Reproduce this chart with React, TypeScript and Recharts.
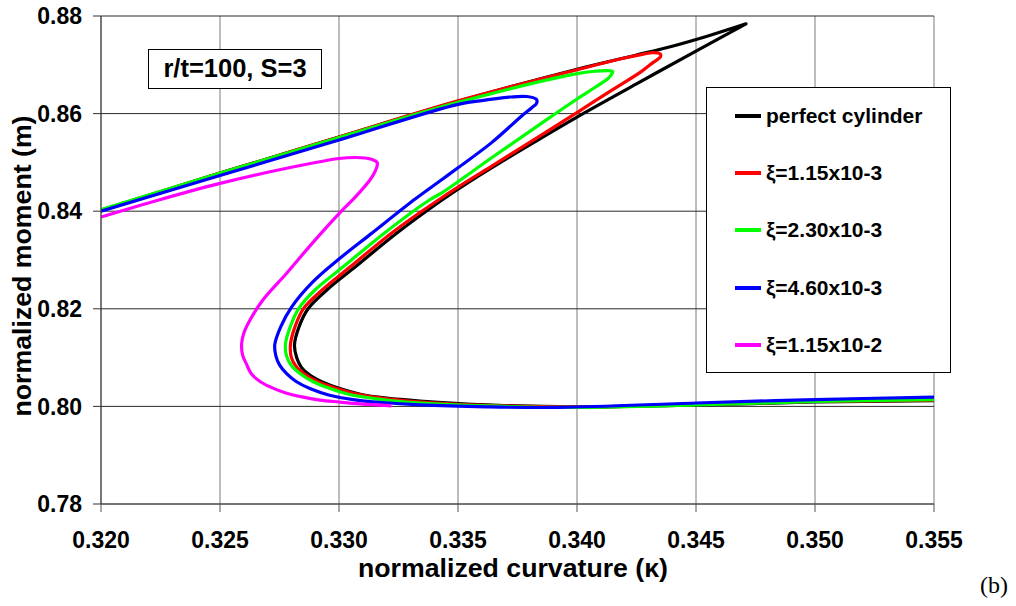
import React from 'react';
import { LineChart, Line, XAxis, YAxis, CartesianGrid, Legend, Customized } from 'recharts';

const FONT = '"Liberation Sans", Arial, sans-serif';

const xTicks = [0.32, 0.325, 0.33, 0.335, 0.34, 0.345, 0.35, 0.355];
const yTicks = [0.78, 0.8, 0.82, 0.84, 0.86, 0.88];

const seriesNames = ['perfect cylinder', 'ξ=1.15x10-3', 'ξ=2.30x10-3', 'ξ=4.60x10-3', 'ξ=1.15x10-2'];
const seriesColors = ['#000000', '#FF0000', '#00FF00', '#0000FF', '#FF00FF'];

// perfect cylinder
const perfectK = [0.3200, 0.3250, 0.3300, 0.3350, 0.3400, 0.3425, 0.3440, 0.3455, 0.3471, 0.3450, 0.3425, 0.3400, 0.3375, 0.3355, 0.3343, 0.33242, 0.3307, 0.3295, 0.3287, 0.32832, 0.32813, 0.32822, 0.32842, 0.3288, 0.3293, 0.3300, 0.3309, 0.3320, 0.3334, 0.3362, 0.3400, 0.3450, 0.3500, 0.3550];
const perfectM = [0.8402, 0.8478, 0.8552, 0.8625, 0.8691, 0.8720, 0.8738, 0.8759, 0.8784, 0.8728, 0.8661, 0.8593, 0.8521, 0.8461, 0.8422, 0.83549, 0.82865, 0.8239, 0.8200, 0.8163, 0.8126, 0.8100, 0.8080, 0.8063, 0.8050, 0.8037, 0.8025, 0.8017, 0.8011, 0.8003, 0.7999, 0.8003, 0.8009, 0.8012];

// xi = 1.15e-3
const xi1K = [0.3200, 0.3250, 0.3300, 0.3350, 0.3400, 0.3420, 0.3428, 0.3432, 0.3435, 0.3435, 0.3432, 0.3427, 0.3413, 0.3400, 0.3385, 0.3364, 0.3343, 0.3322, 0.3305, 0.3293, 0.3285, 0.32815, 0.32796, 0.3280, 0.3282, 0.3286, 0.3291, 0.3298, 0.3307, 0.3318, 0.3332, 0.3362, 0.3400, 0.3450, 0.3500, 0.3550];
const xi1M = [0.8402, 0.8478, 0.8552, 0.8626, 0.8690, 0.8714, 0.8722, 0.8725, 0.8722, 0.8716, 0.8705, 0.8686, 0.8643, 0.8602, 0.8556, 0.8492, 0.8427, 0.8355, 0.8287, 0.8239, 0.8200, 0.8163, 0.8127, 0.8100, 0.8082, 0.8065, 0.8051, 0.8038, 0.8026, 0.8017, 0.8010, 0.8002, 0.7999, 0.8004, 0.8010, 0.8013];

// xi = 2.30e-3
const xi2K = [0.3200, 0.3250, 0.3300, 0.3350, 0.3400, 0.3408, 0.34125, 0.3415, 0.34146, 0.3413, 0.3408, 0.3400, 0.3385, 0.3364, 0.3343, 0.3338, 0.3319, 0.3302, 0.3290, 0.3283, 0.32795, 0.32775, 0.3278, 0.3280, 0.3284, 0.3289, 0.3296, 0.3304, 0.3315, 0.3328, 0.3362, 0.3400, 0.3450, 0.3500, 0.3550];
const xi2M = [0.8403, 0.8478, 0.8551, 0.8623, 0.8682, 0.8687, 0.8688, 0.8686, 0.8681, 0.8672, 0.8655, 0.8630, 0.8580, 0.8509, 0.8437, 0.8423, 0.8355, 0.8287, 0.8239, 0.8200, 0.8163, 0.8127, 0.8103, 0.8084, 0.8066, 0.8051, 0.8037, 0.8025, 0.8016, 0.8009, 0.8001, 0.7998, 0.8003, 0.8010, 0.8014];

// xi = 4.60e-3
const xi3K = [0.3200, 0.3250, 0.3300, 0.3350, 0.3362, 0.3372, 0.3379, 0.3383, 0.3383, 0.3381, 0.3377, 0.3364, 0.3350, 0.3343, 0.3332, 0.3313, 0.3300, 0.3289, 0.3280, 0.32755, 0.3273, 0.32735, 0.3275, 0.3278, 0.3282, 0.3288, 0.3296, 0.3306, 0.3318, 0.3334, 0.3362, 0.3393, 0.3450, 0.3500, 0.3550];
const xi3M = [0.8400, 0.8473, 0.8546, 0.8619, 0.8628, 0.8634, 0.8635, 0.8629, 0.8621, 0.8612, 0.8596, 0.8540, 0.8489, 0.8464, 0.8425, 0.8352, 0.8302, 0.8255, 0.8203, 0.8163, 0.8126, 0.8103, 0.8085, 0.8067, 0.8051, 0.8036, 0.8023, 0.8014, 0.8008, 0.8003, 0.7999, 0.7998, 0.8007, 0.8014, 0.8019];

// xi = 1.15e-2
const xi4K = [0.3200, 0.3225, 0.3250, 0.3275, 0.3300, 0.3307, 0.3311, 0.3314, 0.3316, 0.3316, 0.3315, 0.3313, 0.3307, 0.3301, 0.3288, 0.3278, 0.3268, 0.32626, 0.3260, 0.32591, 0.32595, 0.3261, 0.3263, 0.32668, 0.3272, 0.3278, 0.3285, 0.3292, 0.3300, 0.3309, 0.3322];
const xi4M = [0.8388, 0.8424, 0.8457, 0.8485, 0.8508, 0.8510, 0.8509, 0.8506, 0.8500, 0.8492, 0.8480, 0.8464, 0.8430, 0.8400, 0.8330, 0.8273, 0.8218, 0.8177, 0.8150, 0.8129, 0.8105, 0.8088, 0.8068, 0.8051, 0.8038, 0.8027, 0.8019, 0.8013, 0.8009, 0.8005, 0.8001];

const toPoints = (k: number[], m: number[]) => k.map((x, i) => ({ x, y: m[i] }));

const series = [
  toPoints(perfectK, perfectM),
  toPoints(xi1K, xi1M),
  toPoints(xi2K, xi2M),
  toPoints(xi3K, xi3M),
  toPoints(xi4K, xi4M),
];

// centripetal Catmull-Rom curve (keeps sharp hairpin vertices as corners)
const smoothCurve = (context: any) => {
  let pts: number[][] = [];
  return {
    areaStart() {},
    areaEnd() {},
    lineStart() {
      pts = [];
    },
    point(x: number, y: number) {
      pts.push([+x, +y]);
    },
    lineEnd() {
      const n = pts.length;
      if (!n) return;
      context.moveTo(pts[0][0], pts[0][1]);
      if (n === 1) return;
      if (n === 2) {
        context.lineTo(pts[1][0], pts[1][1]);
        return;
      }
      const isCorner = (i: number) => {
        if (i <= 0 || i >= n - 1) return true;
        const a = pts[i - 1], b = pts[i], c = pts[i + 1];
        const ux = b[0] - a[0], uy = b[1] - a[1], vx = c[0] - b[0], vy = c[1] - b[1];
        const lu = Math.hypot(ux, uy), lv = Math.hypot(vx, vy);
        if (lu < 1e-9 || lv < 1e-9) return true;
        return (ux * vx + uy * vy) / (lu * lv) < -0.8;
      };
      for (let i = 0; i < n - 1; i++) {
        const p0 = pts[i - 1] || pts[i];
        const p1 = pts[i];
        const p2 = pts[i + 1];
        const p3 = pts[i + 2] || pts[i + 1];
        const d01 = Math.hypot(p1[0] - p0[0], p1[1] - p0[1]);
        const d12 = Math.hypot(p2[0] - p1[0], p2[1] - p1[1]);
        const d23 = Math.hypot(p3[0] - p2[0], p3[1] - p2[1]);
        const l01a = Math.sqrt(d01), l12a = Math.sqrt(d12), l23a = Math.sqrt(d23);
        let c1x = p1[0], c1y = p1[1], c2x = p2[0], c2y = p2[1];
        if (!isCorner(i) && l01a > 1e-6) {
          const a = 2 * d01 + 3 * l01a * l12a + d12;
          const nn = 3 * l01a * (l01a + l12a);
          c1x = (p1[0] * a - p0[0] * d12 + p2[0] * d01) / nn;
          c1y = (p1[1] * a - p0[1] * d12 + p2[1] * d01) / nn;
        }
        if (!isCorner(i + 1) && l23a > 1e-6) {
          const b = 2 * d23 + 3 * l23a * l12a + d12;
          const m = 3 * l23a * (l23a + l12a);
          c2x = (p2[0] * b + p1[0] * d23 - p3[0] * d12) / m;
          c2y = (p2[1] * b + p1[1] * d23 - p3[1] * d12) / m;
        }
        context.bezierCurveTo(c1x, c1y, c2x, c2y, p2[0], p2[1]);
      }
    },
  };
};

const LegendBox = () => (
  <div
    style={{
      width: 245,
      height: 286,
      boxSizing: 'border-box',
      border: '1px solid #000',
      background: '#fff',
      position: 'relative',
      fontFamily: FONT,
    }}
  >
    {seriesNames.map((name, i) => (
      <div
        key={name}
        style={{
          position: 'absolute',
          left: 28,
          top: 28 + i * 57.2 - 14,
          height: 28,
          display: 'flex',
          alignItems: 'center',
          whiteSpace: 'nowrap',
        }}
      >
        <div style={{ width: 26, height: 4, background: seriesColors[i], marginRight: 5 }} />
        <span style={{ fontSize: 21, fontWeight: 'bold', color: '#000', lineHeight: '28px' }}>{name}</span>
      </div>
    ))}
  </div>
);

const Annotations = () => (
  <g>
    <rect x={148.5} y={49.5} width={173} height={39} fill="#fff" stroke="#000" strokeWidth={1} />
    <text x={235} y={77} textAnchor="middle" fontFamily={FONT} fontWeight="bold" fontSize={25.5} fill="#000">
      r/t=100, S=3
    </text>
    <text x={513} y={577} textAnchor="middle" fontFamily={FONT} fontWeight="bold" fontSize={26.7} fill="#000">
      normalized curvature (κ)
    </text>
    <text
      x={31}
      y={266}
      textAnchor="middle"
      fontFamily={FONT}
      fontWeight="bold"
      fontSize={26.7}
      fill="#000"
      transform="rotate(-90, 31, 266)"
    >
      normalized moment (m)
    </text>
    <text x={980} y={593} fontFamily='"Liberation Serif", "Times New Roman", serif' fontSize={24} fill="#000">
      (b)
    </text>
  </g>
);

const tickStyle = { fontSize: 23, fontWeight: 'bold' as const, fill: '#000', fontFamily: FONT };

export default function App() {
  return (
    <div style={{ position: 'absolute', left: 0, top: 0, width: 1016, height: 606, background: '#fff' }}>
      <LineChart width={1016} height={606} margin={{ top: 16, right: 82, bottom: 62, left: 0 }}>
        <CartesianGrid horizontal={false} stroke="#7a7a7a" strokeWidth={1} />
        <CartesianGrid vertical={false} stroke="#2a2a2a" strokeWidth={1} />
        <XAxis
          type="number"
          dataKey="x"
          domain={[0.32, 0.355]}
          ticks={xTicks}
          interval={0}
          allowDataOverflow
          tickFormatter={(v: number) => v.toFixed(3)}
          height={40}
          tickSize={8}
          tickMargin={20}
          stroke="#555"
          tick={tickStyle}
        />
        <YAxis
          type="number"
          domain={[0.78, 0.88]}
          ticks={yTicks}
          interval={0}
          allowDataOverflow
          tickFormatter={(v: number) => v.toFixed(2)}
          width={101}
          tickSize={8}
          tickMargin={11}
          stroke="#333"
          tick={tickStyle}
        />
        {series.map((pts, i) => (
          <Line
            key={seriesNames[i]}
            data={pts}
            dataKey="y"
            name={seriesNames[i]}
            type={smoothCurve as any}
            stroke={seriesColors[i]}
            strokeWidth={3.2}
            dot={false}
            activeDot={false}
            isAnimationActive={false}
            strokeLinejoin="round"
          />
        ))}
        <Legend
          layout="horizontal"
          verticalAlign="middle"
          align="center"
          content={() => <LegendBox />}
          wrapperStyle={{ left: 706, top: 87, width: 245, height: 286 }}
        />
        <Customized component={Annotations} />
      </LineChart>
    </div>
  );
}
